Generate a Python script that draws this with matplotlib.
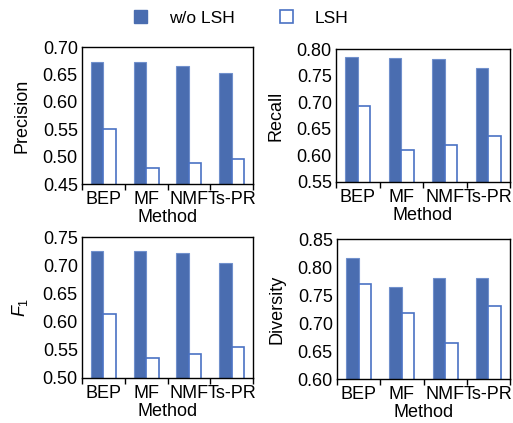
import matplotlib
matplotlib.use("Agg")
import matplotlib.pyplot as plt
from matplotlib.patches import Patch
import numpy as np

plt.rcParams['font.family'] = ['Liberation Sans', 'DejaVu Sans']
plt.rcParams['mathtext.fontset'] = 'custom'
plt.rcParams['mathtext.it'] = 'Liberation Sans:italic'
plt.rcParams['mathtext.rm'] = 'Liberation Sans'

methods = ['BEP', 'MF', 'NMF', 'Ts-PR']
series_names = ['w/o LSH', 'LSH']

precision_wo = [0.673, 0.672, 0.665, 0.652]
precision_lsh = [0.551, 0.480, 0.488, 0.495]
recall_wo = [0.785, 0.783, 0.782, 0.765]
recall_lsh = [0.693, 0.611, 0.620, 0.637]
f1_wo = [0.726, 0.725, 0.722, 0.704]
f1_lsh = [0.613, 0.536, 0.543, 0.555]
diversity_wo = [0.816, 0.765, 0.781, 0.781]
diversity_lsh = [0.770, 0.718, 0.665, 0.730]

panels = [
    ('Precision', precision_wo, precision_lsh, (0.45, 0.70)),
    ('Recall', recall_wo, recall_lsh, (0.55, 0.80)),
    (r'$F_1$', f1_wo, f1_lsh, (0.50, 0.75)),
    ('Diversity', diversity_wo, diversity_lsh, (0.60, 0.85)),
]

W, H = 513, 423
fig = plt.figure(figsize=(W / 100, H / 100), dpi=100)

# axes boxes in pixels: left, right, top, bottom
boxes = [
    (82, 253, 47, 184),
    (336, 510, 49, 182),
    (82, 253, 237, 378),
    (337, 510, 239, 379),
]

fill_color = '#4a6db0'
fill_edge = '#7090cc'
hollow_edge = '#4a72c4'

x = np.arange(len(methods))
bw = 0.29

for (label, wo, lsh, ylim), (l, r, t, b) in zip(panels, boxes):
    ax = fig.add_axes([l / W, 1 - b / H, (r - l) / W, (b - t) / H])
    ax.bar(x - bw / 2, wo, width=bw, color=fill_color, edgecolor=fill_edge, linewidth=0.8)
    ax.bar(x + bw / 2, lsh, width=bw, facecolor='white', edgecolor=hollow_edge, linewidth=1.2)
    ax.set_xlim(-0.5, len(methods) - 0.5)
    ax.set_ylim(*ylim)
    ax.set_yticks(np.round(np.arange(ylim[0], ylim[1] + 0.001, 0.05), 2))
    ax.yaxis.set_major_formatter(matplotlib.ticker.FormatStrFormatter('%.2f'))
    ax.set_xticks(x)
    ax.set_xticklabels(methods)
    ax.set_xticks(np.arange(-0.5, len(methods), 1.0), minor=True)
    ax.tick_params(axis='x', which='major', length=0, pad=5, labelsize=13)
    ax.tick_params(axis='x', which='minor', length=4, direction='out', width=1)
    ax.tick_params(axis='y', which='major', length=0, pad=3, labelsize=13)
    for s in ax.spines.values():
        s.set_linewidth(1.0)
        s.set_color('black')
    ax.set_ylabel(label, fontsize=13, labelpad=9)
    ax.set_xlabel('Method', fontsize=13, labelpad=1)

handles = [Patch(facecolor=fill_color, edgecolor=fill_color),
           Patch(facecolor='white', edgecolor=hollow_edge, linewidth=1.2)]
fig.legend(handles, series_names, loc='center', bbox_to_anchor=(241.5 / W, 1 - 18 / H),
           ncol=2, frameon=False, fontsize=12.5, handlelength=0.75, handleheight=0.75,
           columnspacing=2.6, handletextpad=1.25)

fig.savefig('out.png', dpi=100)
